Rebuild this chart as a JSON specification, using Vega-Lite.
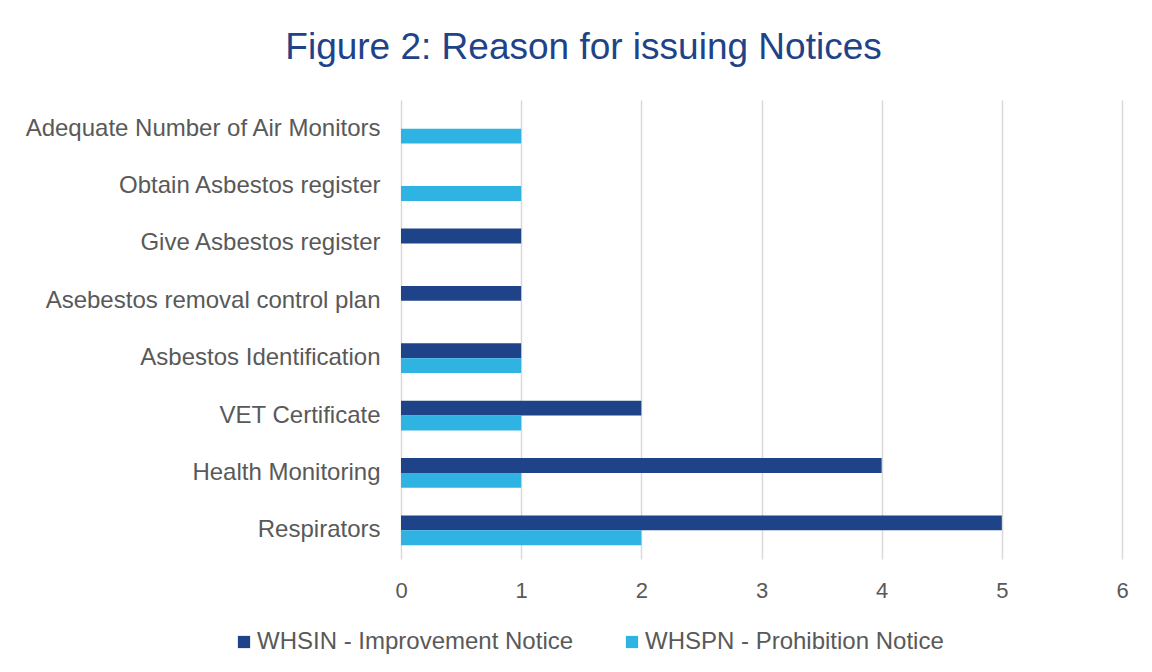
{
  "$schema": "https://vega.github.io/schema/vega-lite/v6.json",
  "width": 721,
  "height": 459,
  "autosize": {"type": "none"},
  "padding": {"left": 401, "top": 100, "right": 30, "bottom": 113},
  "background": "white",
  "title": {
    "text": "Figure 2: Reason for issuing Notices",
    "font": "Liberation Sans",
    "fontSize": 37,
    "fontWeight": "normal",
    "color": "#1F4388",
    "anchor": "middle",
    "frame": "group",
    "baseline": "alphabetic",
    "offset": 4,
    "dx": -178
  },
  "data": {
    "values": [
      {"reason": "Adequate Number of Air Monitors", "series": "WHSIN - Improvement Notice", "count": 0},
      {"reason": "Adequate Number of Air Monitors", "series": "WHSPN - Prohibition Notice", "count": 1},
      {"reason": "Obtain Asbestos register", "series": "WHSIN - Improvement Notice", "count": 0},
      {"reason": "Obtain Asbestos register", "series": "WHSPN - Prohibition Notice", "count": 1},
      {"reason": "Give Asbestos register", "series": "WHSIN - Improvement Notice", "count": 1},
      {"reason": "Give Asbestos register", "series": "WHSPN - Prohibition Notice", "count": 0},
      {"reason": "Asebestos removal control plan", "series": "WHSIN - Improvement Notice", "count": 1},
      {"reason": "Asebestos removal control plan", "series": "WHSPN - Prohibition Notice", "count": 0},
      {"reason": "Asbestos Identification", "series": "WHSIN - Improvement Notice", "count": 1},
      {"reason": "Asbestos Identification", "series": "WHSPN - Prohibition Notice", "count": 1},
      {"reason": "VET Certificate", "series": "WHSIN - Improvement Notice", "count": 2},
      {"reason": "VET Certificate", "series": "WHSPN - Prohibition Notice", "count": 1},
      {"reason": "Health Monitoring", "series": "WHSIN - Improvement Notice", "count": 4},
      {"reason": "Health Monitoring", "series": "WHSPN - Prohibition Notice", "count": 1},
      {"reason": "Respirators", "series": "WHSIN - Improvement Notice", "count": 5},
      {"reason": "Respirators", "series": "WHSPN - Prohibition Notice", "count": 2}
    ]
  },
  "mark": {"type": "bar", "cornerRadius": 0},
  "encoding": {
    "y": {
      "field": "reason",
      "type": "nominal",
      "sort": null,
      "scale": {"paddingInner": 0.48, "paddingOuter": 0.24},
      "axis": {
        "title": null,
        "domain": false,
        "ticks": false,
        "labelFont": "Liberation Sans",
        "labelFontSize": 24,
        "labelColor": "#595959",
        "labelPadding": 21,
        "labelLimit": 400
      }
    },
    "yOffset": {"field": "series", "type": "nominal"},
    "x": {
      "field": "count",
      "type": "quantitative",
      "scale": {"domain": [0, 6], "nice": false},
      "axis": {
        "title": null,
        "domain": false,
        "ticks": false,
        "values": [0, 1, 2, 3, 4, 5, 6],
        "labelOverlap": false,
        "labelFlush": false,
        "grid": true,
        "gridColor": "#D9D9D9",
        "gridWidth": 1.5,
        "labelFont": "Liberation Sans",
        "labelFontSize": 22,
        "labelColor": "#595959",
        "labelPadding": 21
      }
    },
    "color": {
      "field": "series",
      "type": "nominal",
      "scale": {
        "domain": ["WHSIN - Improvement Notice", "WHSPN - Prohibition Notice"],
        "range": ["#1F4388", "#2FB3E3"]
      },
      "legend": {
        "title": null,
        "orient": "none",
        "direction": "horizontal",
        "legendX": -169,
        "legendY": 530,
        "symbolType": "square",
        "symbolSize": 150,
        "symbolStrokeWidth": 0,
        "labelFont": "Liberation Sans",
        "labelFontSize": 24,
        "labelColor": "#595959",
        "labelOffset": 1,
        "labelLimit": 400,
        "columnPadding": 46
      }
    }
  },
  "config": {"view": {"stroke": null}}
}
